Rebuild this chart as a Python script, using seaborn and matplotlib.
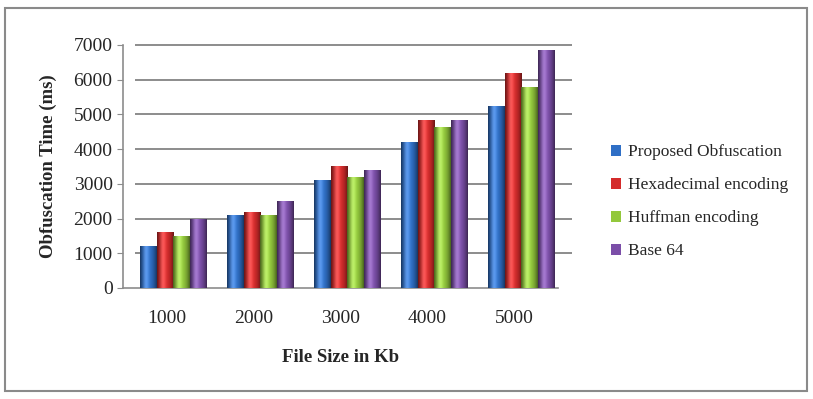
import numpy as np
import pandas as pd
import matplotlib
matplotlib.use('Agg')
import matplotlib.pyplot as plt
import matplotlib.colors as mcolors
from matplotlib.patches import Rectangle
import seaborn as sns

# data
sizes = ['1000', '2000', '3000', '4000', '5000']
proposed = [1200, 2100, 3100, 4200, 5250]
hexadecimal = [1600, 2200, 3500, 4850, 6200]
huffman = [1500, 2100, 3200, 4650, 5800]
base64 = [2000, 2500, 3400, 4850, 6850]

methods = ['Proposed Obfuscation', 'Hexadecimal encoding', 'Huffman encoding', 'Base 64']
colors = ['#2f6fc6', '#d42b2b', '#93c83c', '#7b4ea8']

df = pd.DataFrame({
    'size': sizes * 4,
    'method': np.repeat(methods, len(sizes)),
    'time': proposed + hexadecimal + huffman + base64,
})

sns.set_style('white')
plt.rcParams['font.family'] = ['Liberation Serif', 'DejaVu Serif']

fig = plt.figure(figsize=(8.13, 3.99), dpi=100)
# outer frame like the Excel chart area
fig.patches.append(Rectangle((5 / 813, 8 / 399), 802 / 813, 383 / 399, transform=fig.transFigure,
                             fill=False, edgecolor='#8a8a8a', linewidth=1.5))

ax = fig.add_axes([123 / 813, 1 - 288 / 399, 435 / 813, 243 / 399])
sns.barplot(data=df, x='size', y='time', hue='method', palette=colors, width=0.76,
            saturation=1, ax=ax, legend=True, edgecolor='none')

ax.set_ylim(0, 7000)
ax.set_yticks(range(0, 7001, 1000))
# back-wall gridlines (shifted a little right, as in the 3D original)
ax.hlines(range(1000, 7001, 1000), -0.36, 4.66, color='#8c8c8c', lw=1.4, zorder=0, clip_on=False)

# cylinder-like shading on each bar, nudged right for the depth offset
for patch in ax.patches:
    if patch.get_height() <= 0:
        continue
    patch.set_x(patch.get_x() + 0.08)
    x0, w, h = patch.get_x(), patch.get_width(), patch.get_height()
    base = np.array(mcolors.to_rgb(patch.get_facecolor()))
    t = np.linspace(-1, 1, 40)
    shade = 1 - 0.5 * t ** 2
    light = np.clip(base[None, :] * shade[:, None] + 0.18 * np.exp(-((t + 0.3) / 0.35) ** 2)[:, None], 0, 1)
    im = ax.imshow(light[None, :, :], extent=(x0, x0 + w, 0, h), aspect='auto', zorder=3)
    im.set_clip_path(patch)
ax.set_xlim(-0.5, 4.5)

for side in ['top', 'right']:
    ax.spines[side].set_visible(False)
for side in ['left', 'bottom']:
    ax.spines[side].set_color('#8c8c8c')
    ax.spines[side].set_linewidth(1.2)

ax.set_xticks(np.arange(-0.5, 5, 1), minor=True)
ax.tick_params(axis='x', which='major', length=0, labelsize=14, pad=16)
ax.tick_params(axis='x', which='minor', length=6, color='#8c8c8c', direction='out')
ax.tick_params(axis='y', length=4, color='#8c8c8c', direction='out', labelsize=14, left=True)

ax.set_xlabel('File Size in Kb', fontsize=13.5, fontweight='bold', labelpad=16)
ax.set_ylabel('Obfuscation Time (ms)', fontsize=13.5, fontweight='bold', labelpad=12)

handles, labels = ax.get_legend_handles_labels()
ax.legend(handles, labels, loc='center left', bbox_to_anchor=(1.085, 0.355), frameon=False,
          fontsize=12.5, handlelength=0.6, handleheight=0.6, handletextpad=0.4, labelspacing=0.98)

fig.savefig('out.png', dpi=100)
